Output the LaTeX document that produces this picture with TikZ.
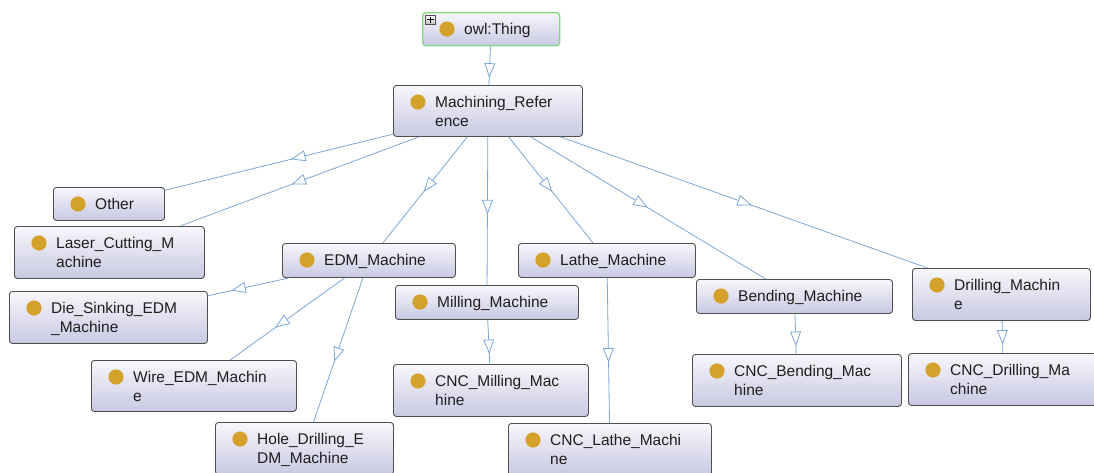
\documentclass[tikz,border=0pt]{standalone}
\usepackage{fontspec}
\setmainfont{Liberation Sans}
\usetikzlibrary{decorations.markings}

\definecolor{edgeblue}{HTML}{7BA7D6}
\definecolor{boxtop}{HTML}{F7F7FC}
\definecolor{boxbot}{HTML}{C8C8E2}
\definecolor{boxline}{HTML}{4E4E4E}
\definecolor{dotgold}{HTML}{D4A22B}
\definecolor{thinggreen}{HTML}{80D880}
\definecolor{txt}{HTML}{1E1E1E}

\tikzset{
  clsbox/.style={draw=boxline, line width=0.9pt, rounded corners=3pt,
    top color=boxtop, bottom color=boxbot, inner sep=0pt, anchor=north west},
  thingbox/.style={draw=thinggreen, line width=1.3pt},
  clslabel/.style={anchor=base west, inner sep=0pt, text=txt,
    font=\fontsize{15.5}{18.8}\selectfont},
  clsdot/.style={fill=dotgold},
  subedge/.style={draw=edgeblue, line width=0.8pt},
  isamark/.style={decoration={markings, mark=at position 0.5 with {
      \draw[edgeblue, line width=0.8pt, fill=white, line join=miter]
        (6.5pt,0pt) -- (-6.5pt,5pt) -- (-6.5pt,-5pt) -- cycle;}},
    postaction=decorate},
  plusicon/.style={draw=boxline, line width=0.6pt, top color=white,
    bottom color=black!25, inner sep=0pt, anchor=north west,
    minimum width=10pt, minimum height=9pt},
}

% class box: [extra style]{name}{left}{right}{top}{bottom}
\newcommand\classbox[6][]{%
  \node[clsbox, #1, minimum width=#4pt-#3pt, minimum height=#6pt-#5pt]
    (#2) at (#3,#5) {};
  \fill[clsdot] ([xshift=25pt,yshift=-17pt]#2.north west) circle (7.6pt);
}
% class label, first line on the given baseline
\newcommand\classtext[2]{%
  \node[clslabel] (#1-text) at ([xshift=42pt,yshift=-22.5pt]#1.north west)
    {\begin{tabular}[t]{@{}l@{}}#2\end{tabular}};
}
% subclass link: line between borders, open triangle at the centre midpoint
\newcommand\isa[2]{%
  \draw[subedge] (#1) -- (#2);
  \path[isamark] (#1.center) -- (#2.center);
}

\begin{document}
\begin{tikzpicture}[x=1pt,y=-1pt]
\useasboundingbox (0,0) rectangle (1094,472);
\fill[white] (0,0) rectangle (1094,472);
\clip (0,0) rectangle (1094,472);

% boxes
\classbox[thingbox]{thing}{422}{559}{12}{45}
\classbox{mr}{393}{582}{85}{136}
\classbox{other}{53}{164}{187}{220}
\classbox{laser}{14}{204}{226}{278}
\classbox{die}{9}{207}{291}{343}
\classbox{edm}{282}{455}{243}{277}
\classbox{wire}{91}{296}{360}{411}
\classbox{hole}{215}{393}{422}{474}
\classbox{milling}{395}{578}{285}{319}
\classbox{cncmill}{393}{588}{364}{416}
\classbox{lathe}{518}{695}{243}{277}
\classbox{cnclathe}{508}{711}{423}{475}
\classbox{bending}{696}{892}{279}{313}
\classbox{cncbend}{692}{901}{354}{406}
\classbox{drilling}{912}{1090}{268}{320}
\classbox{cncdrill}{908}{1098}{353}{405}

% expand icon on the root class
\node[plusicon] (thing-plus) at (425,15) {};
\draw[black, line width=0.7pt] ([xshift=2pt]thing-plus.west) -- ([xshift=-2pt]thing-plus.east);
\draw[black, line width=0.7pt] ([yshift=-1.8pt]thing-plus.north) -- ([yshift=1.8pt]thing-plus.south);

% subclass links
\isa{thing}{mr}
\isa{mr}{other}
\isa{mr}{laser}
\isa{mr}{edm}
\isa{mr}{milling}
\isa{mr}{lathe}
\isa{mr}{bending}
\isa{mr}{drilling}
\isa{edm}{die}
\isa{edm}{wire}
\isa{edm}{hole}
\isa{milling}{cncmill}
\isa{lathe}{cnclathe}
\isa{bending}{cncbend}
\isa{drilling}{cncdrill}

% labels
\classtext{thing}{owl:Thing}
\classtext{mr}{Machining\_Refer\\ence}
\classtext{other}{Other}
\classtext{laser}{Laser\_Cutting\_M\\achine}
\classtext{die}{Die\_Sinking\_EDM\\\_Machine}
\classtext{edm}{EDM\_Machine}
\classtext{wire}{Wire\_EDM\_Machin\\e}
\classtext{hole}{Hole\_Drilling\_E\\DM\_Machine}
\classtext{milling}{Milling\_Machine}
\classtext{cncmill}{CNC\_Milling\_Mac\\hine}
\classtext{lathe}{Lathe\_Machine}
\classtext{cnclathe}{CNC\_Lathe\_Machi\\ne}
\classtext{bending}{Bending\_Machine}
\classtext{cncbend}{CNC\_Bending\_Mac\\hine}
\classtext{drilling}{Drilling\_Machin\\e}
\classtext{cncdrill}{CNC\_Drilling\_Ma\\chine}
\end{tikzpicture}
\end{document}
